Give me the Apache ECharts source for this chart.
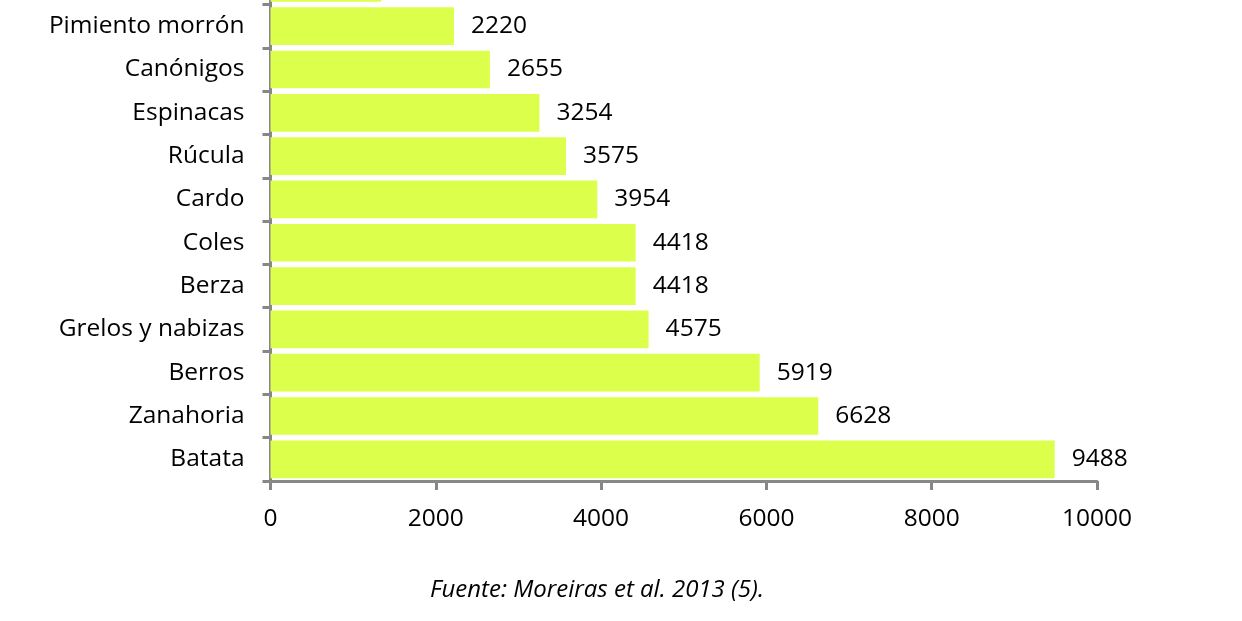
<!DOCTYPE html>
<html>
<head>
<meta charset="utf-8">
<script src="https://cdn.jsdelivr.net/npm/echarts@6/dist/echarts.min.js"></script>
<style>
html,body{margin:0;padding:0;background:#fff;}
#c{width:1242px;height:621px;}
</style>
</head>
<body>
<div id="c"></div>
<script>
const categories = ['Batata','Zanahoria','Berros','Grelos y nabizas','Berza','Coles','Cardo','Rúcula','Espinacas','Canónigos','Pimiento morrón','Lechuga'];
const values = [9488,6628,5919,4575,4418,4418,3954,3575,3254,2655,2220,1340];
const xTicks = {min:0, max:10000, interval:2000};
const source = 'Fuente: Moreiras et al. 2013 (5).';

const FONT = '"Open Sans", sans-serif';
const chart = echarts.init(document.getElementById('c'), null, {renderer:'canvas'});
chart.setOption({
  animation:false,
  backgroundColor:'#ffffff',
  grid:{left:270.5, right:145, top:-38.8, bottom:140, containLabel:false, outerBoundsMode:'none'},
  xAxis:{
    type:'value', min:xTicks.min, max:xTicks.max, interval:xTicks.interval,
    splitLine:{show:false},
    axisLine:{show:true, lineStyle:{color:'#878787', width:3}},
    axisTick:{show:true, length:9, lineStyle:{color:'#878787', width:3}},
    axisLabel:{color:'#000', fontFamily:FONT, fontSize:24.5, margin:26, formatter:v => String(v)}
  },
  yAxis:{
    type:'category', data:categories,
    axisLine:{show:true, lineStyle:{color:'#878787', width:3}},
    axisTick:{show:true, length:8, lineStyle:{color:'#878787', width:3}},
    axisLabel:{color:'#000', fontFamily:FONT, fontSize:24.5, margin:26}
  },
  series:[{
    type:'bar', data:values, barCategoryGap:'13%',
    itemStyle:{color:'#dbff4a'},
    label:{show:true, position:'right', distance:17, color:'#000', fontFamily:FONT, fontSize:24.5}
  }],
  graphic:[{
    type:'text', left:430, top:578,
    style:{text:source, fill:'#000', font:'italic 24px "Open Sans", sans-serif'}
  }]
});
</script>
</body>
</html>
